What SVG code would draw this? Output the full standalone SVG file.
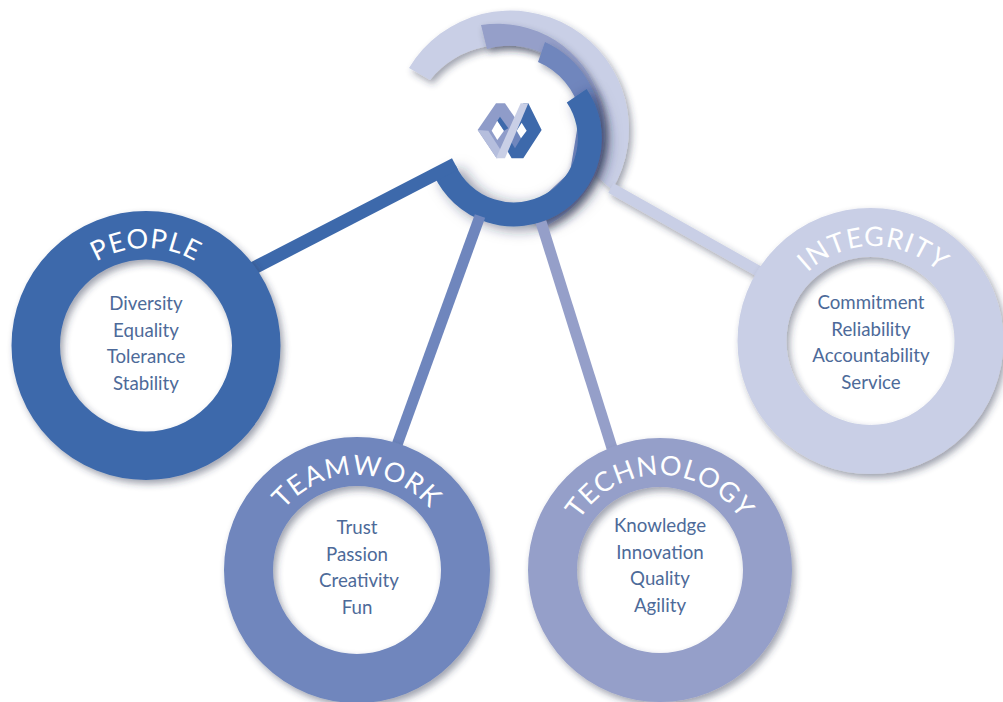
<svg xmlns="http://www.w3.org/2000/svg" width="1003" height="702" viewBox="0 0 1003 702">
<defs>
<filter id="sh" x="-30%" y="-30%" width="160%" height="160%"><feDropShadow dx="3" dy="4" stdDeviation="3.500" flood-color="#2a3550" flood-opacity="0.45"/></filter>
<filter id="shi" x="-30%" y="-30%" width="160%" height="160%"><feDropShadow dx="6" dy="3" stdDeviation="7" flood-color="#1f2b4c" flood-opacity="0.55"/></filter>
<path id="pPeople" d="M 49 345 A 97 97 0 0 1 243 345"/>
<path id="pTeam" d="M 262 570 A 95 95 0 0 1 452 570"/>
<path id="pTech" d="M 565 570 A 95 95 0 0 1 755 570"/>
<path id="pInt" d="M 778.500 341 A 95 95 0 0 1 968.500 341"/>
</defs>
<style>
.body{font-family:"Lato","Open Sans",sans-serif;font-size:18.700px;fill:#4d6a99;text-anchor:middle}
.ttl{font-family:"Lato","Open Sans",sans-serif;font-size:27px;fill:#fff;text-anchor:middle;letter-spacing:1px}
.ring{fill:none;filter:url(#sh)}
</style>
<rect width="1003" height="702" fill="#fff"/>
<g id="hub">
<path d="M 409 68 A 118 118 0 1 1 612 190 L 590 170 A 93 93 0 0 0 430 80 Z" fill="#c9cfe6" filter="url(#sh)"/>
<path d="M 481 25 A 107 107 0 0 1 540 229 L 535 205 L 570 172 L 590 110 A 82 82 0 0 0 487 49 Z" fill="#959fc9" filter="url(#sh)"/>
<path d="M 545 42 A 96 96 0 0 1 530 222 L 535 205 L 570 172 L 580 112 A 72 72 0 0 0 538 62 Z" fill="#6f86bd" filter="url(#sh)"/>
<path d="M 576.700 95.700 A 76 76 0 1 1 444.800 170.200" fill="none" stroke="#3d69ab" stroke-width="24" filter="url(#shi)"/>
</g>
<g id="connectors" fill="none" stroke-width="11">
<path d="M 611 188 L 760 272" stroke="#c9cfe6" filter="url(#sh)"/>
<path d="M 541 222 L 612 448" stroke="#959fc9"/>
<path d="M 480 216 L 397 445" stroke="#6f86bd"/>
<path d="M 455 164 L 250 270" stroke="#3d69ab" stroke-width="13"/>
</g>
<g id="logo" transform="translate(390 0) scale(0.3333)">
<polygon points="263,390 318,310 345,310 380,360 345,430 320,475" fill="#8f9cc9"/>
<polygon points="263,390 295,392 345,470 320,475" fill="#b5bedd"/>
<polygon points="400,310 415,310 455,390 400,475 365,475 345,440 380,385" fill="#3d69ab"/>
<polygon points="380,392 393,415 375,445 360,420" fill="#6f86bd"/>
<polygon points="395,368 410,392 393,415 380,392" fill="#fff"/>
<polygon points="322,362 342,392 322,420 305,392" fill="#fff"/>
<polygon points="330,350 355,385 342,392 322,362" fill="#3d69ab"/>
<polygon points="392,310 415,310 345,475 318,475" fill="#c9cfe6"/>
</g>
<g id="people">
<circle cx="146" cy="345.500" r="110.250" stroke-width="48.500" stroke="#3d69ab" class="ring"/>
<text class="ttl"><textPath href="#pPeople" startOffset="50%">PEOPLE</textPath></text>
<text class="body" x="146" y="310">Diversity</text>
<text class="body" x="146" y="337">Equality</text>
<text class="body" x="146" y="363">Tolerance</text>
<text class="body" x="146" y="390">Stability</text>
</g>
<g id="teamwork">
<circle cx="357" cy="570" r="108.500" stroke-width="49" stroke="#6f86bd" class="ring"/>
<text class="ttl"><textPath href="#pTeam" startOffset="50%">TEAMWORK</textPath></text>
<text class="body" x="357" y="534">Trust</text>
<text class="body" x="357" y="561">Passion</text>
<text class="body" x="359" y="587">Creativity</text>
<text class="body" x="357" y="614">Fun</text>
</g>
<g id="technology">
<circle cx="660" cy="570" r="107.500" stroke-width="49" stroke="#959fc9" class="ring"/>
<text class="ttl"><textPath href="#pTech" startOffset="50%">TECHNOLOGY</textPath></text>
<text class="body" x="660" y="532">Knowledge</text>
<text class="body" x="660" y="559">Innovation</text>
<text class="body" x="660" y="585">Quality</text>
<text class="body" x="660" y="612">Agility</text>
</g>
<g id="integrity">
<circle cx="870.500" cy="341" r="108.500" stroke-width="49" stroke="#c9cfe6" class="ring"/>
<text class="ttl"><textPath href="#pInt" startOffset="50%">INTEGRITY</textPath></text>
<text class="body" x="871" y="309">Commitment</text>
<text class="body" x="871" y="336">Reliability</text>
<text class="body" x="871" y="362">Accountability</text>
<text class="body" x="871" y="389">Service</text>
</g>
</svg>
